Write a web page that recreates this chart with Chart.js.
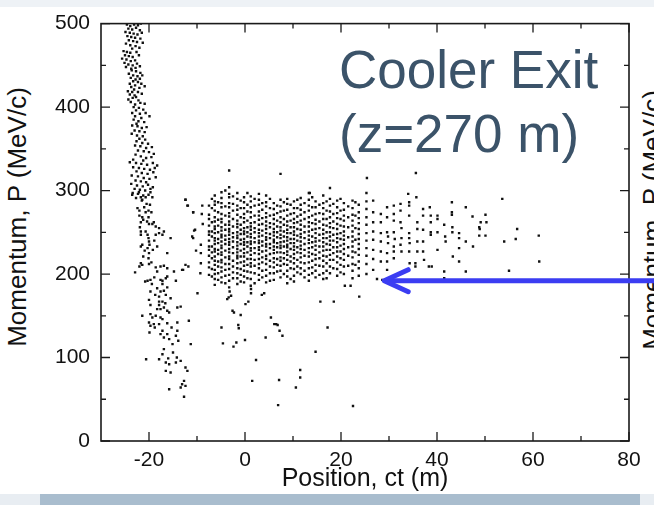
<!DOCTYPE html>
<html>
<head>
<meta charset="utf-8">
<script src="https://cdn.jsdelivr.net/npm/chart.js@4.4.0/dist/chart.umd.min.js"></script>
<style>
  html, body { margin: 0; padding: 0; }
  body { width: 654px; height: 505px; overflow: hidden; position: relative; background: #fff;
         font-family: 'Liberation Sans', Arial, sans-serif; }
  #topBand    { position: absolute; left: 0; top: 0; width: 654px; height: 7px; background: #eef2f6; }
  #bottomBand { position: absolute; left: 0; top: 494px; width: 654px; height: 11px; background: #e8edf2; }
  #bottomBar  { position: absolute; left: 40px; top: 494px; width: 600px; height: 11px; background: #a9bdce; }
  .ytitle  { position: absolute; font-size: 26px; color: #111; white-space: nowrap;
             transform: translate(-50%, -50%) rotate(-90deg); }
  #caption { position: absolute; left: 339px; top: 38px; font-size: 53px; line-height: 64px; color: #3b5369; }
  #chart   { position: absolute; left: 0; top: 0; }
</style>
</head>
<body>
<div id="topBand"></div>
<div id="bottomBand"></div>
<div id="bottomBar"></div>
<div class="ytitle" style="left:17px; top:217px;">Momentum, P (MeV/c)</div>
<div class="ytitle" style="left:652px; top:220px;">Momentum, P (MeV/c)</div>
<div id="caption">Cooler Exit<br>(z=270 m)</div>
<canvas id="chart" width="654" height="505"></canvas>

<script>
// Axis setup
const xTitle      = 'Position, ct (m)';
const xTickValues = [-20, 0, 20, 40, 60, 80];
const xMinorTicks = [-10, 10, 30, 50, 70];
const yTickValues = [0, 100, 200, 300, 400, 500];
const yMinorTicks = [50, 150, 250, 350, 450];
const arrowTip    = [29, 192];   // where the blue arrow points (x, P)

// 1) Tail of the bunch, high momentum part (ct, P)
const tailUpper = [
  [-24.6,499],[-23.9,497],[-23.1,499],[-22.3,498],[-21.7,500],[-24.3,494],[-23.5,493],[-22.7,495],[-21.9,492],
  [-24.9,490],[-24.0,489],[-23.2,488],[-22.4,487],[-21.5,489],[-24.5,485],[-23.7,484],[-22.9,483],[-21.8,482],
  [-24.2,480],[-23.3,479],[-22.5,478],[-21.3,477],[-24.8,476],[-23.9,474],[-22.8,473],[-22.0,471],[-23.5,470],
  [-25.3,467],[-24.6,466],[-23.9,465],[-22.6,466],[-25.0,462],[-24.2,461],[-23.4,460],[-22.1,462],[-25.6,458],
  [-24.7,457],[-23.8,455],[-22.9,456],[-25.1,453],[-24.3,451],[-23.4,450],[-22.5,452],[-24.8,448],[-23.7,446],
  [-22.8,447],[-21.9,449],
  [-23.6,444],[-22.7,443],[-21.8,441],[-24.2,440],[-23.3,438],[-22.4,437],[-21.4,438],[-23.8,435],[-22.8,433],
  [-21.9,434],[-23.3,431],[-22.3,430],[-24.0,428],[-21.6,428],[-22.9,426],[-23.7,424],[-22.0,423],[-20.9,425],
  [-23.1,421],
  [-24.4,419],[-23.5,418],[-22.3,418],[-21.5,416],[-24.0,415],[-23.0,414],[-22.7,412],[-23.4,411],[-24.3,409],
  [-22.2,408],[-23.8,406],[-21.8,405],[-22.9,403],[-20.9,404],
  [-23.2,400],[-22.1,399],[-21.2,397],[-22.7,396],[-23.5,393],[-21.9,392],[-20.7,393],[-22.9,389],[-21.6,387],
  [-19.9,389],[-23.2,385],[-22.2,383],[-21.0,382],[-22.6,380],
  [-23.5,378],[-22.4,377],[-21.5,375],[-20.5,376],[-23.0,372],[-22.0,371],[-20.9,370],[-23.6,368],[-22.5,366],
  [-21.3,365],[-22.0,362],[-20.8,361],
  [-22.6,359],[-21.4,357],[-20.2,356],[-22.9,354],[-21.8,353],[-20.6,351],[-19.4,352],[-22.3,348],[-21.1,347],
  [-20.0,346],[-19.0,344],[-22.8,343],[-21.7,341],[-20.6,339],[-19.5,340],[-23.3,337],[-21.2,336],
  [-24.0,334],[-22.7,333],[-21.6,332],[-20.4,331],[-19.2,333],[-18.3,330],[-23.3,328],[-22.1,327],[-21.0,326],
  [-19.8,325],[-18.8,327],[-22.6,323],[-21.5,321],[-20.3,320],[-19.1,322],[-23.6,318],[-22.3,317],[-21.1,315],
  [-19.9,314],[-18.6,316],[-22.8,312],[-21.7,311],[-20.6,310],
  [-23.7,308],[-22.5,306],[-21.3,305],[-20.2,307],[-19.2,304],[-23.0,302],[-21.9,301],[-20.8,300],[-19.7,302],
  [-23.4,297],[-22.3,296],[-21.2,294],[-20.1,295],[-22.7,291],[-21.4,289]
];

// 2) Tail of the bunch, falling to low momentum
const tailLower = [
  [-23.5,295],[-22.1,298],[-21.7,292],[-21.5,288],[-20.7,292],[-19.7,298],[-19.3,292],
  [-22.0,276],[-22.0,270],[-21.7,262],[-21.4,268],[-20.7,274],[-20.1,276],[-20.1,268],[-19.5,274],[-19.3,260],[-20.0,260],
  [-21.0,280],[-20.5,284],[-22.4,279],[-19.8,283],[-21.2,265],[-20.4,263],[-21.9,256],[-19.0,262],
  [-21.7,251],[-21.7,247],[-20.7,251],[-20.3,247],[-20.1,243],[-20.0,239],[-19.9,235],[-20.3,231],[-20.0,225],
  [-21.4,235],[-21.7,233],[-20.1,219],[-18.9,240],[-19.2,229],[-20.9,228],[-21.2,221],[-19.5,214],
  [-18.6,257],[-17.9,255],[-17.9,249],[-16.9,251],[-17.2,247],[-18.6,247],[-15.5,243],[-16.2,225],[-18.3,233],
  [-12.4,289],[-11.9,282],[-10.8,274],[-10.4,253],[-10.8,243],
  [-21.4,211],[-21.7,213],[-22.0,209],[-22.9,202],[-20.0,212],
  [-18.6,208],[-18.3,203],[-17.6,209],[-16.9,210],[-16.2,207],[-14.8,203],[-12.4,211],[-13.1,205],[-11.8,209],
  [-20.8,191],[-20.3,192],[-19.7,193],[-17.6,193],[-17.2,192],[-16.5,195],[-16.2,197],[-14.4,192],[-18.9,196],[-19.4,188],
  [-19.7,179],[-18.3,183],[-17.6,179],[-16.2,184],[-16.5,175],[-17.9,173],[-15.5,171],[-18.7,175],[-16.9,180],[-17.2,188],
  [-20.0,169],[-19.7,163],[-17.9,167],[-17.9,163],[-17.2,167],[-18.3,158],[-16.6,165],
  [-17.6,158],[-16.9,160],[-16.2,156],[-15.8,154],[-14.1,160],[-13.4,161],
  [-21.4,150],[-19.7,152],[-19.3,148],[-18.6,150],[-17.6,148],[-17.2,146],[-17.9,140],[-19.0,140],[-20.0,142],
  [-19.7,138],[-14.1,142],[-11.7,144],[-18.8,136],[-15.3,136],[-16.2,141],
  [-19.9,130],[-17.2,132],[-16.2,128],[-16.9,124],[-15.8,122],[-14.4,126],[-14.1,132],[-13.9,120],[-15.1,116],
  [-11.3,116],[-17.6,128],
  [-16.9,110],[-17.2,104],[-17.9,98],[-20.6,98],[-15.0,106],[-14.2,100],[-16.0,99],
  [-16.5,94],[-15.8,92],[-14.4,94],[-13.4,96],[-12.4,88],[-12.0,84],[-16.5,84],[-15.5,82],
  [-12.7,72],[-13.1,68],[-12.4,66],[-13.4,64],[-15.8,62],[-12.7,53]
];

// 3) Core of the bunch: streak positions (ct) and the momenta along each streak
const coreColX = [-7.5, -6.3, -4.9, -3.3, -1.6, -0.2, 1.2, 2.9, 4.4, 6.0, 7.4, 8.8,
                  10.2, 11.6, 13.3, 14.7, 16.3, 17.7, 19.2, 20.6, 22.4, 23.7, 25.3, 26.7];
const coreColY = [
  [282, 271, 266, 258, 251, 247, 240, 233, 229, 222, 214, 208, 199],
  [294, 287, 283, 276, 268, 263, 257, 254, 249, 243, 240, 236, 230, 227, 221, 216, 211, 205, 200, 194, 187],
  [298, 291, 285, 280, 272, 266, 262, 256, 252, 247, 244, 239, 234, 231, 226, 223, 217, 214, 208, 203, 196, 190],
  [304, 296, 292, 285, 280, 273, 269, 263, 259, 254, 251, 247, 242, 238, 235, 230, 226, 221, 218, 212, 206, 199, 192, 184],
  [297, 290, 282, 277, 271, 264, 260, 256, 250, 246, 243, 238, 234, 230, 226, 222, 219, 213, 207, 201, 195, 188],
  [292, 286, 279, 272, 267, 262, 255, 251, 248, 242, 238, 235, 230, 225, 221, 215, 210, 204, 197, 190],
  [293, 287, 280, 274, 268, 261, 257, 253, 248, 244, 239, 236, 231, 228, 223, 218, 213, 209, 202, 194, 186],
  [296, 289, 283, 275, 270, 265, 259, 253, 249, 245, 240, 237, 232, 229, 224, 218, 212, 207, 199, 193],
  [294, 286, 281, 273, 268, 263, 258, 254, 249, 244, 241, 236, 233, 228, 222, 218, 212, 205, 198, 190],
  [285, 278, 271, 266, 260, 254, 250, 246, 241, 238, 233, 229, 225, 219, 214, 208, 201, 193],
  [289, 281, 275, 268, 262, 256, 252, 247, 243, 238, 234, 231, 226, 220, 216, 210, 204, 196],
  [290, 284, 277, 270, 263, 258, 253, 249, 244, 240, 235, 232, 227, 223, 217, 211, 204, 197, 189],
  [287, 279, 273, 266, 261, 256, 251, 247, 242, 237, 233, 229, 224, 219, 213, 206, 198, 191],
  [291, 283, 277, 271, 264, 259, 253, 248, 244, 239, 234, 230, 225, 220, 214, 207, 200],
  [297, 289, 282, 276, 268, 262, 257, 251, 246, 241, 237, 231, 226, 221, 214, 207, 199, 192],
  [287, 280, 272, 265, 260, 254, 249, 243, 239, 234, 229, 223, 218, 211, 204, 196],
  [294, 285, 279, 272, 266, 259, 253, 248, 243, 238, 233, 228, 222, 216, 209, 201, 194],
  [303, 290, 282, 275, 268, 261, 256, 250, 245, 240, 235, 229, 223, 217, 209, 201],
  [288, 280, 273, 267, 260, 254, 248, 243, 238, 232, 227, 221, 214, 206, 198],
  [285, 277, 270, 264, 257, 251, 246, 241, 236, 230, 224, 217, 209, 200],
  [288, 279, 271, 264, 258, 251, 245, 239, 233, 227, 220, 212, 204, 195],
  [283, 274, 267, 261, 254, 248, 242, 236, 230, 223, 215, 207, 198],
  [297, 287, 278, 268, 259, 249, 240, 231, 222, 212, 200],
  [288, 274, 262, 251, 241, 229, 218, 205]
];

// 3b) Fainter streaks lying between the main ones
const coreSubX = [-6.9, -5.6, -4.1, -2.5, -0.9, 0.5, 2.0, 3.6, 5.2, 6.7, 8.1, 9.5,
                  10.9, 12.4, 14.0, 15.5, 17.0, 18.4, 19.9, 21.5, 23.0];
const coreSubY = [
  [290, 279, 262, 251, 245, 233, 226, 219, 206, 197],
  [286, 274, 265, 258, 250, 242, 237, 229, 224, 215, 209, 201, 193],
  [300, 281, 270, 259, 253, 246, 241, 236, 228, 220, 212, 205, 198, 189],
  [293, 284, 276, 266, 257, 249, 244, 239, 232, 225, 216, 209, 202, 195],
  [288, 279, 268, 259, 253, 248, 241, 236, 228, 221, 214, 206, 199, 191],
  [297, 283, 275, 264, 256, 250, 245, 238, 233, 226, 218, 211, 203, 195],
  [290, 282, 270, 262, 255, 250, 243, 238, 231, 225, 217, 210, 201, 189],
  [285, 277, 267, 260, 252, 246, 239, 234, 227, 220, 214, 204, 196],
  [290, 279, 270, 261, 256, 248, 243, 236, 231, 224, 216, 209, 201, 192],
  [282, 273, 264, 257, 250, 244, 237, 232, 226, 218, 211, 203],
  [286, 276, 266, 259, 251, 245, 239, 233, 225, 219, 212, 200],
  [283, 272, 264, 256, 249, 242, 237, 230, 221, 215, 207, 194],
  [289, 279, 269, 262, 254, 246, 240, 232, 226, 217, 209, 202],
  [285, 274, 266, 257, 250, 243, 236, 229, 222, 213, 204, 196],
  [292, 280, 270, 261, 253, 245, 238, 232, 224, 216, 208, 201],
  [283, 273, 263, 255, 247, 240, 233, 226, 219, 210, 199],
  [287, 276, 266, 258, 250, 243, 236, 229, 221, 213, 204, 195],
  [284, 272, 263, 255, 247, 240, 232, 225, 217, 207],
  [290, 276, 266, 258, 249, 242, 234, 227, 219, 211, 202],
  [281, 268, 256, 244, 232, 222, 210],
  [286, 270, 255, 241, 226, 211]
];

// 4) Leading edge of the core (ct > 27 m), thinning out
const coreFront = [
  [28.3,272],[28.3,262],[28.3,249],[28.3,239],[28.3,227],[28.3,215],[27.5,194],[28.6,193],
  [29.6,280],[29.6,268],[29.6,250],[29.8,245],[29.8,237],[29.6,225],[29.6,215],[29.6,205],
  [31.0,282],[31.0,272],[31.0,264],[31.0,250],[31.2,242],[31.0,233],[31.0,227],[31.0,219],
  [32.4,284],[32.4,276],[32.4,262],[32.6,255],[32.6,243],[32.4,235],[32.6,227],
  [34.0,296],[34.2,286],[34.2,282],[34.2,270],[34.2,249],[34.2,243],[34.3,237],[34.2,227],[34.3,213],
  [35.5,209],[35.5,213],[35.6,321],[35.7,292],[35.9,262],[35.9,254],[35.9,239],[35.9,227],
  [37.1,278],[37.1,270],[37.1,253],[37.1,239],[37.1,227],[37.3,217],[38.3,209],[38.9,209],
  [38.5,280],[38.7,270],[38.7,262],[38.7,250],[38.7,247],
  [40.1,270],[40.1,266],[40.1,250],[40.1,229],
  [41.5,259],[41.7,245],[41.8,239],[41.5,203],[41.5,195],
  [43.1,286],[43.1,274],[43.1,271],[43.2,256],[43.2,250],[43.3,221],
  [44.6,249],[44.6,243],[44.6,231],[44.6,215],
  [46.0,280],[46.0,239],[46.0,203],[47.4,269],[47.5,233],
  [48.8,256],[48.9,254],[48.8,246],[50.1,271],[50.3,262],[50.1,246],[49.1,262],
  [53.6,290],[54.0,239],[55.0,204],[56.4,242],[56.7,254],[61.2,246],[61.3,215]
];

// 5) Scattered particles around the core and the fringe left of it
const strays = [
  [-12.4,289],[-12.0,282],[-12.9,205],[-10.8,274],[-10.6,252],[-11.0,245],[-8.9,282],[-9.0,272],[-8.8,260],
  [-9.2,235],[-9.2,225],[-9.2,213],[-9.3,201],[-10.2,228],
  [-9.9,177],[-2.3,154],[-2.6,156],[-0.9,151],[-1.4,139],[-1.3,135],[-4.9,136],[-4.6,117],[-2.4,113],
  [-1.8,118],[0,121],[2.3,97],[1.5,72],[4.3,124],[5.4,148],[6.1,140],[6.5,140],[6.8,139],[7.2,132],
  [7.8,126],[7.1,73],[6.9,43],[10.6,64],[11.5,85],[11.5,76],[14.7,107],[17.2,136],[15.7,167],[18.5,167],
  [23.8,173],[20.8,186],[22.0,186],[22.5,42],[0.1,164],[0.7,167],[-3.2,179],[-3.4,172],[-2.9,174],
  [-3.7,170],[1.25,182],[1.25,177],[3.5,175],[4.0,177],
  [-3.3,324],[7.4,320],[25.4,315],[13.5,297]
];

const FONT = "'Liberation Sans', Arial, sans-serif";

// Flatten everything into one scatter series
const toPoints = list => list.map(p => ({ x: p[0], y: p[1] }));
const streakPoints = (xs, ys) => {
  const out = [];
  xs.forEach((cx, i) => ys[i].forEach(cy => out.push({ x: cx, y: cy })));
  return out;
};
const allPoints = [].concat(
  toPoints(tailUpper), toPoints(tailLower),
  streakPoints(coreColX, coreColY), streakPoints(coreSubX, coreSubY),
  toPoints(coreFront), toPoints(strays)
);

// Box frame with inward ticks on all four sides, plus the blue arrow
const frameAndArrow = {
  id: 'frameAndArrow',
  afterDatasetsDraw(chart) {
    const { ctx, chartArea: a, scales: { x, y } } = chart;
    ctx.save();
    ctx.strokeStyle = '#1a1a1a';
    ctx.lineWidth = 1.6;
    ctx.strokeRect(a.left, a.top, a.right - a.left, a.bottom - a.top);

    ctx.lineWidth = 1.3;
    ctx.beginPath();
    const markX = (v, len) => {
      const px = x.getPixelForValue(v);
      ctx.moveTo(px, a.bottom); ctx.lineTo(px, a.bottom - len);
      ctx.moveTo(px, a.top);    ctx.lineTo(px, a.top + len);
    };
    const markY = (v, len) => {
      const py = y.getPixelForValue(v);
      ctx.moveTo(a.left, py);  ctx.lineTo(a.left + len, py);
      ctx.moveTo(a.right, py); ctx.lineTo(a.right - len, py);
    };
    xTickValues.forEach(v => markX(v, 9));
    xMinorTicks.forEach(v => markX(v, 5));
    yTickValues.forEach(v => markY(v, 9));
    yMinorTicks.forEach(v => markY(v, 5));
    ctx.stroke();

    // arrow from the page edge to the leading particles
    const tipX = x.getPixelForValue(arrowTip[0]);
    const tipY = y.getPixelForValue(arrowTip[1]);
    ctx.strokeStyle = '#3b3df2';
    ctx.lineWidth = 5;
    ctx.lineCap = 'round';
    ctx.lineJoin = 'round';
    ctx.beginPath();
    ctx.moveTo(chart.width + 5, tipY);
    ctx.lineTo(tipX + 2, tipY);
    ctx.stroke();
    ctx.beginPath();
    ctx.moveTo(tipX + 24, tipY - 11);
    ctx.lineTo(tipX, tipY);
    ctx.lineTo(tipX + 24, tipY + 11);
    ctx.stroke();
    ctx.restore();
  }
};

new Chart(document.getElementById('chart').getContext('2d'), {
  type: 'scatter',
  data: {
    datasets: [{
      data: allPoints,
      pointStyle: 'rect',
      pointRadius: 1.7,
      pointBorderWidth: 0,
      backgroundColor: '#111',
      borderColor: '#111'
    }]
  },
  options: {
    responsive: false,
    animation: false,
    devicePixelRatio: 1,
    layout: { padding: { top: 20, right: 25, left: 0, bottom: 0 } },
    plugins: { legend: { display: false }, tooltip: { enabled: false } },
    scales: {
      x: {
        type: 'linear', min: -30, max: 80,
        afterBuildTicks: s => { s.ticks = xTickValues.map(v => ({ value: v })); },
        afterFit: s => { s.height = 64; },
        ticks: { font: { family: FONT, size: 21 }, color: '#111', padding: 7, maxRotation: 0, autoSkip: false },
        grid: { display: false, drawTicks: false },
        border: { display: false },
        title: {
          display: true, text: xTitle, color: '#111',
          font: { family: FONT, size: 25 }, padding: { top: 0, bottom: 11 }
        }
      },
      y: {
        type: 'linear', min: 0, max: 500,
        afterBuildTicks: s => { s.ticks = yTickValues.map(v => ({ value: v })); },
        afterFit: s => { s.width = 101; },
        ticks: { font: { family: FONT, size: 21 }, color: '#111', padding: 11, autoSkip: false },
        grid: { display: false, drawTicks: false },
        border: { display: false }
      }
    }
  },
  plugins: [frameAndArrow]
});
</script>
</body>
</html>
